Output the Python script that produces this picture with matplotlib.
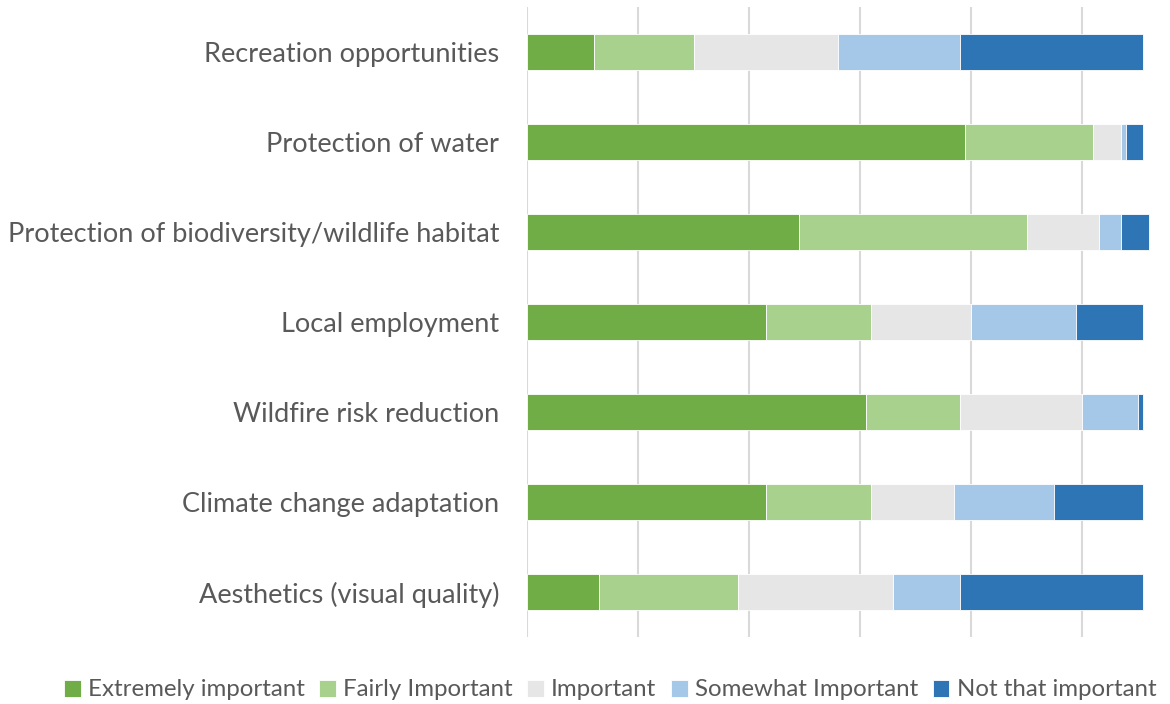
import matplotlib
matplotlib.use("Agg")
import matplotlib.pyplot as plt
import numpy as np

categories = [
    "Recreation opportunities",
    "Protection of water",
    "Protection of biodiversity/wildlife habitat",
    "Local employment",
    "Wildfire risk reduction",
    "Climate change adaptation",
    "Aesthetics (visual quality)",
]
series_names = ["Extremely important", "Fairly Important", "Important",
                "Somewhat Important", "Not that important"]

extremely = [12, 79, 49, 43, 61, 43, 13]
fairly = [18, 23, 41, 19, 17, 19, 25]
important = [26, 5, 13, 18, 22, 15, 28]
somewhat = [22, 1, 4, 19, 10, 18, 12]
not_that = [33, 3, 5, 12, 1, 16, 33]

colors = ["#70AD47", "#A9D18E", "#E6E6E6", "#A6C8E8", "#2E75B6"]
text_color = "#595959"

plt.rcParams['font.family'] = ['Lato', 'DejaVu Sans']

fig = plt.figure(figsize=(11.7, 7.04), dpi=100)
ax = fig.add_axes([527 / 1170, 67 / 704, 1 - 527 / 1170, 630 / 704])

y = np.arange(len(categories))
left = np.zeros(len(categories))
for name, vals, col in zip(series_names,
                           [extremely, fairly, important, somewhat, not_that],
                           colors):
    ax.barh(y, vals, left=left, height=0.4, color=col, label=name,
            edgecolor="white", linewidth=0.6, zorder=3)
    left += np.array(vals)

ax.set_ylim(len(categories) - 0.5, -0.5)
ax.set_xlim(0, (1170 - 527) / 111 * 20)
ax.set_xticks([0, 20, 40, 60, 80, 100])
ax.set_xticklabels([])
ax.tick_params(axis="x", length=0)
ax.tick_params(axis="y", length=0, pad=20, labelsize=19.5, labelcolor=text_color)
ax.set_yticks(y)
ax.set_yticklabels(categories)
ax.grid(axis="x", color="#D9D9D9", linewidth=1.5, zorder=0)
for s in ax.spines.values():
    s.set_visible(False)

fig.legend(loc="center", bbox_to_anchor=(610 / 1170, 1 - 690 / 704),
           ncol=5, frameon=False, fontsize=17.3, labelcolor=text_color,
           handlelength=0.7, handleheight=0.7, handletextpad=0.3,
           columnspacing=0.6)

fig.savefig("out.png", dpi=100)
